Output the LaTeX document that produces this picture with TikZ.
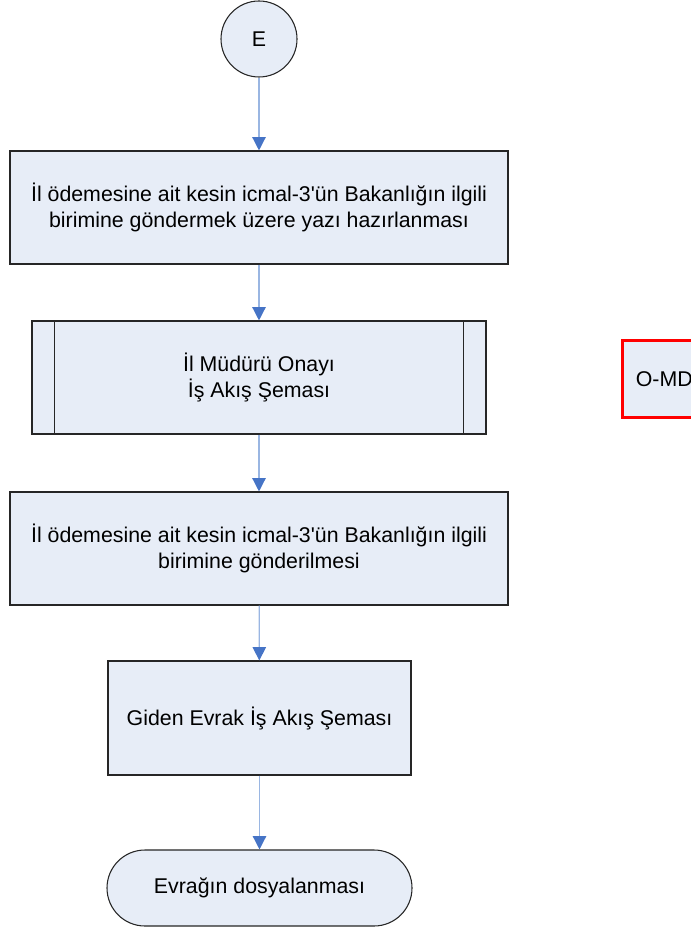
\documentclass[tikz,border=0pt]{standalone}
\usepackage{fontspec}
\setmainfont{Liberation Sans}
\usepackage{tikz}
\usetikzlibrary{shapes.geometric, arrows.meta, positioning, calc}
\definecolor{boxfill}{HTML}{E7EDF7}
\definecolor{lineblue}{HTML}{9AB6E2}
\definecolor{headblue}{HTML}{4674C6}

\begin{document}
\begin{tikzpicture}[
    x=0.75pt, y=-0.75pt,
    font=\fontsize{16}{19.5}\selectfont,
    process/.style={rectangle, draw=black!85, line width=0.8pt, fill=boxfill, minimum width=373.5pt, minimum height=84.75pt, align=center, inner sep=0pt},
    subprocess/.style={process, minimum width=340.5pt},
    terminal/.style={rectangle, rounded corners=28.5pt, draw=black!85, line width=0.8pt, fill=boxfill, minimum width=228.75pt, minimum height=57pt, align=center},
    connector/.style={circle, draw=black!85, line width=0.8pt, fill=boxfill, minimum size=57pt, inner sep=0pt},
    pagemark/.style={rectangle, draw=red, line width=2.2pt, fill=boxfill, minimum width=160pt, minimum height=57.75pt, inner xsep=9pt, text width=140pt, align=left},
    arrow/.style={-{Triangle[length=10pt, width=10pt, color=headblue]}, draw=lineblue, line width=1pt}
]
    \useasboundingbox (0,0) rectangle (691,930);

    % Components
    \node [connector] (e) at (259, 39) {E};
    \node [process] (yazi) at (259, 207.5) {İl ödemesine ait kesin icmal-3\textquotesingle ün Bakanlığın ilgili\\birimine göndermek üzere yazı hazırlanması};
    \node [subprocess] (onay) at (259, 377.5) {İl Müdürü Onayı\\İş Akış Şeması};
    \node [process] (gonder) at (259, 548.5) {İl ödemesine ait kesin icmal-3\textquotesingle ün Bakanlığın ilgili\\birimine gönderilmesi};
    \node [process, minimum width=227.25pt, minimum height=85.5pt] (giden) at (259.5, 718) {Giden Evrak İş Akış Şeması};
    \node [terminal] (dosya) at (259.5, 888) {Evrağın dosyalanması};

    % Side mark
    \node [pagemark, anchor=north west] (omd) at (621, 339) {O-MD};

    % Subprocess bars
    \draw [black!85, line width=0.8pt] ([xshift=17.25pt]onay.north west) -- ([xshift=17.25pt]onay.south west);
    \draw [black!85, line width=0.8pt] ([xshift=-17.25pt]onay.north east) -- ([xshift=-17.25pt]onay.south east);

    % Connections
    \draw [arrow] (e) -- (yazi);
    \draw [arrow] (yazi) -- (onay);
    \draw [arrow] (onay) -- (gonder);
    \draw [arrow] (gonder) -- (giden);
    \draw [arrow] (giden.south -| dosya.north) -- (dosya);
\end{tikzpicture}
\end{document}
